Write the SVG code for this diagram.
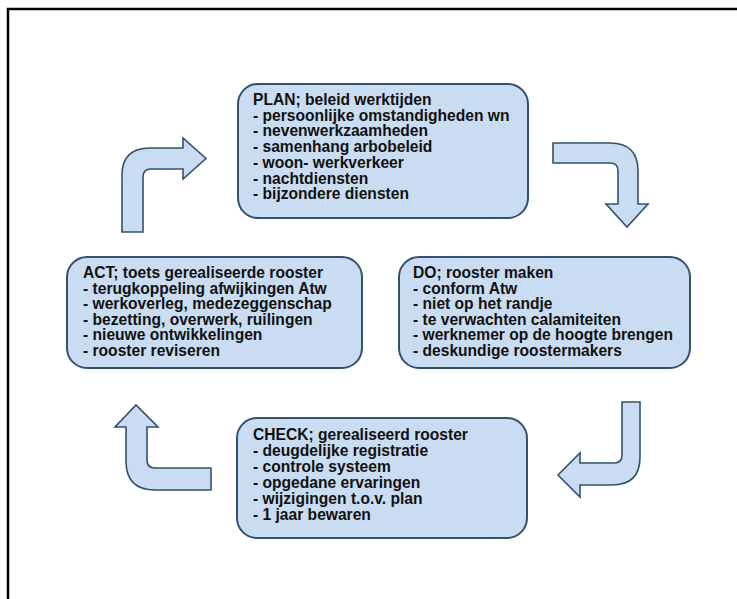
<svg xmlns="http://www.w3.org/2000/svg" width="737" height="599" viewBox="0 0 737 599">
<style>
.box{fill:#c9dcf1;stroke:#35506e;stroke-width:2}
.arr{fill:#c9dcf1;stroke:#35506e;stroke-width:1.6;stroke-linejoin:miter}
.t{font-family:"Liberation Sans",Arial,sans-serif;font-size:15.6px;font-weight:bold;fill:#111}
</style>
<rect x="0" y="0" width="737" height="599" fill="#fff"/>
<rect x="8" y="9" width="740" height="600" fill="none" stroke="#000" stroke-width="2.5"/>
<g id="connectors">
<path class="arr" d="M122,232 L122,175 Q122,148 150,148 L183,148 L183,138 L206,158.5 L183,179 L183,169 L151,169 Q143,169 143,177 L143,232 Z"/>
<path class="arr" d="M553,143 L610,143 Q638,143 638,171 L638,204 L648,204 L627,227 L606,204 L618,204 L618,171 Q618,163 610,163 L553,163 Z"/>
<path class="arr" d="M622,402 L640,402 L640,457 Q640,485 612,485 L580,485 L580,497 L558,475 L580,453 L580,463 L614,463 Q622,463 622,455 Z"/>
<path class="arr" d="M126,427 L115,427 L136,405 L158,427 L147,427 L147,460 Q147,468 155,468 L211,468 L211,490 L155,490 Q126,490 126,461 Z"/>
</g>
<g id="plan">
<rect class="box" x="238" y="84" width="290" height="134" rx="20"/>
<text class="t" x="253" y="105">PLAN; beleid werktijden</text>
<text class="t" x="253" y="120.7">- persoonlijke omstandigheden wn</text>
<text class="t" x="253" y="136.4">- nevenwerkzaamheden</text>
<text class="t" x="253" y="152.1">- samenhang arbobeleid</text>
<text class="t" x="253" y="167.8">- woon- werkverkeer</text>
<text class="t" x="253" y="183.5">- nachtdiensten</text>
<text class="t" x="253" y="199.2">- bijzondere diensten</text>
</g>
<g id="do">
<rect class="box" x="399" y="257" width="291" height="111" rx="20"/>
<text class="t" x="413" y="278">DO; rooster maken</text>
<text class="t" x="413" y="293.5">- conform Atw</text>
<text class="t" x="413" y="309">- niet op het randje</text>
<text class="t" x="413" y="324.5">- te verwachten calamiteiten</text>
<text class="t" x="413" y="340">- werknemer op de hoogte brengen</text>
<text class="t" x="413" y="355.5">- deskundige roostermakers</text>
</g>
<g id="check">
<rect class="box" x="237" y="418" width="290" height="120" rx="20"/>
<text class="t" x="253" y="440">CHECK; gerealiseerd rooster</text>
<text class="t" x="253" y="456">- deugdelijke registratie</text>
<text class="t" x="253" y="472">- controle systeem</text>
<text class="t" x="253" y="488">- opgedane ervaringen</text>
<text class="t" x="253" y="504">- wijzigingen t.o.v. plan</text>
<text class="t" x="253" y="520">- 1 jaar bewaren</text>
</g>
<g id="act">
<rect class="box" x="67" y="257" width="295" height="111" rx="20"/>
<text class="t" x="83" y="278">ACT; toets gerealiseerde rooster</text>
<text class="t" x="83" y="293.5">- terugkoppeling afwijkingen Atw</text>
<text class="t" x="83" y="309">- werkoverleg, medezeggenschap</text>
<text class="t" x="83" y="324.5">- bezetting, overwerk, ruilingen</text>
<text class="t" x="83" y="340">- nieuwe ontwikkelingen</text>
<text class="t" x="83" y="355.5">- rooster reviseren</text>
</g>
</svg>
